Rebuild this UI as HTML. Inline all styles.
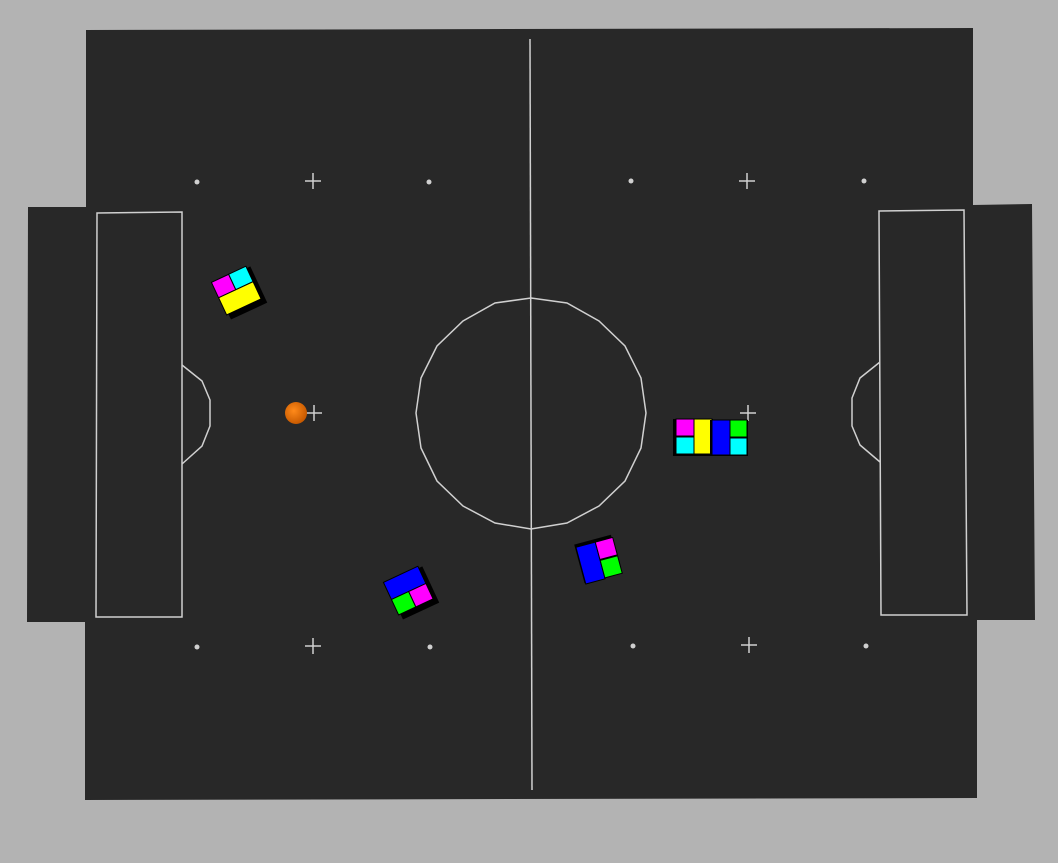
<!DOCTYPE html>
<html><head><meta charset="utf-8"><style>
html,body{margin:0;padding:0;background:#b3b3b3;font-family:"Liberation Sans",sans-serif}
svg{display:block}
</style></head><body>
<svg width="1058" height="863" viewBox="0 0 1058 863">
<rect width="1058" height="863" fill="#b3b3b3"/>
<polygon fill="#282828"
 points="86,30 973,28 973,205 1032,204 1035,620 977,620 977,798 85,800 85,622 27,622 28,207 86,207"/>
<g stroke="#d0d0d0" stroke-width="1.5" fill="none">
 <line x1="530" y1="39" x2="532" y2="790"/>
 <polygon points="531,298 567,303 599,321 625,346 641,378 646,413 641,448 625,481 599,506 567,523 531,529 495,523 463,506 437,481 421,448 416,413 421,378 437,346 463,321 495,303"/>
 <polygon points="97,213 182,212 182,617 96,617"/>
 <polygon points="879,211 964,210 967,615 881,615"/>
 <polyline points="182,365 202,381 210,400 210,426 202,446 182,464"/>
 <polyline points="880,362 860,378 852,398 852,426 860,445 880,462"/>
 <g>
  <path d="M305,181h16M313,173v16"/><path d="M739,181h16M747,173v16"/>
  <path d="M305,646h16M313,638v16"/><path d="M741,645h16M749,637v16"/>
  <path d="M306,413h16M314,405v16"/><path d="M740,413h16M748,405v16"/>
 </g>
</g>
<g fill="#d0d0d0">
 <circle cx="197" cy="182" r="2.5"/><circle cx="429" cy="182" r="2.5"/>
 <circle cx="631" cy="181" r="2.5"/><circle cx="864" cy="181" r="2.5"/>
 <circle cx="197" cy="647" r="2.5"/><circle cx="430" cy="647" r="2.5"/>
 <circle cx="633" cy="646" r="2.5"/><circle cx="866" cy="646" r="2.5"/>
</g>
<defs><radialGradient id="bg" cx="0.4" cy="0.4" r="0.6"><stop offset="0" stop-color="#ff8a1a"/><stop offset="1" stop-color="#c85a00"/></radialGradient></defs>
<circle cx="296" cy="413" r="11" fill="url(#bg)"/>

<g transform="translate(238,292) rotate(-25)">
 <rect x="-18" y="-18" width="40" height="40" fill="#000"/>
 <rect x="-20" y="-20" width="19" height="17" fill="#ff00ff" stroke="#000"/>
 <rect x="-1" y="-20" width="19" height="17" fill="#00ffff" stroke="#000"/>
 <rect x="-20" y="-3" width="38" height="19" fill="#ffff00" stroke="#000"/>
</g>
<g transform="translate(410,592) rotate(-25)">
 <rect x="-18" y="-18" width="40" height="40" fill="#000"/>
 <rect x="-20" y="-20" width="38" height="19" fill="#0000ff" stroke="#000"/>
 <rect x="-20" y="-1" width="19" height="17" fill="#00ff00" stroke="#000"/>
 <rect x="-1" y="-1" width="19" height="17" fill="#ff00ff" stroke="#000"/>
</g>
<g transform="translate(598,560) rotate(-15)">
 <rect x="-19" y="-21" width="38" height="40" fill="#000"/>
 <rect x="-18" y="-18" width="20" height="38" fill="#0000ff" stroke="#000"/>
 <rect x="2" y="-18" width="18" height="18" fill="#ff00ff" stroke="#000"/>
 <rect x="2" y="1" width="18" height="18" fill="#00ff00" stroke="#000"/>
</g>
<g>
 <rect x="673" y="419" width="40" height="37" fill="#000"/>
 <rect x="676" y="419" width="18" height="17" fill="#ff00ff" stroke="#000"/>
 <rect x="676" y="437" width="18" height="17" fill="#00ffff" stroke="#000"/>
 <rect x="694" y="419" width="18" height="35" fill="#ffff00" stroke="#000"/>
</g>
<g>
 <rect x="710" y="420" width="38" height="36" fill="#000"/>
 <rect x="712" y="420" width="18" height="35" fill="#0000ff" stroke="#000"/>
 <rect x="730" y="420" width="17" height="17" fill="#00ff00" stroke="#000"/>
 <rect x="730" y="438" width="17" height="17" fill="#00ffff" stroke="#000"/>
</g>
</svg>
</body></html>
